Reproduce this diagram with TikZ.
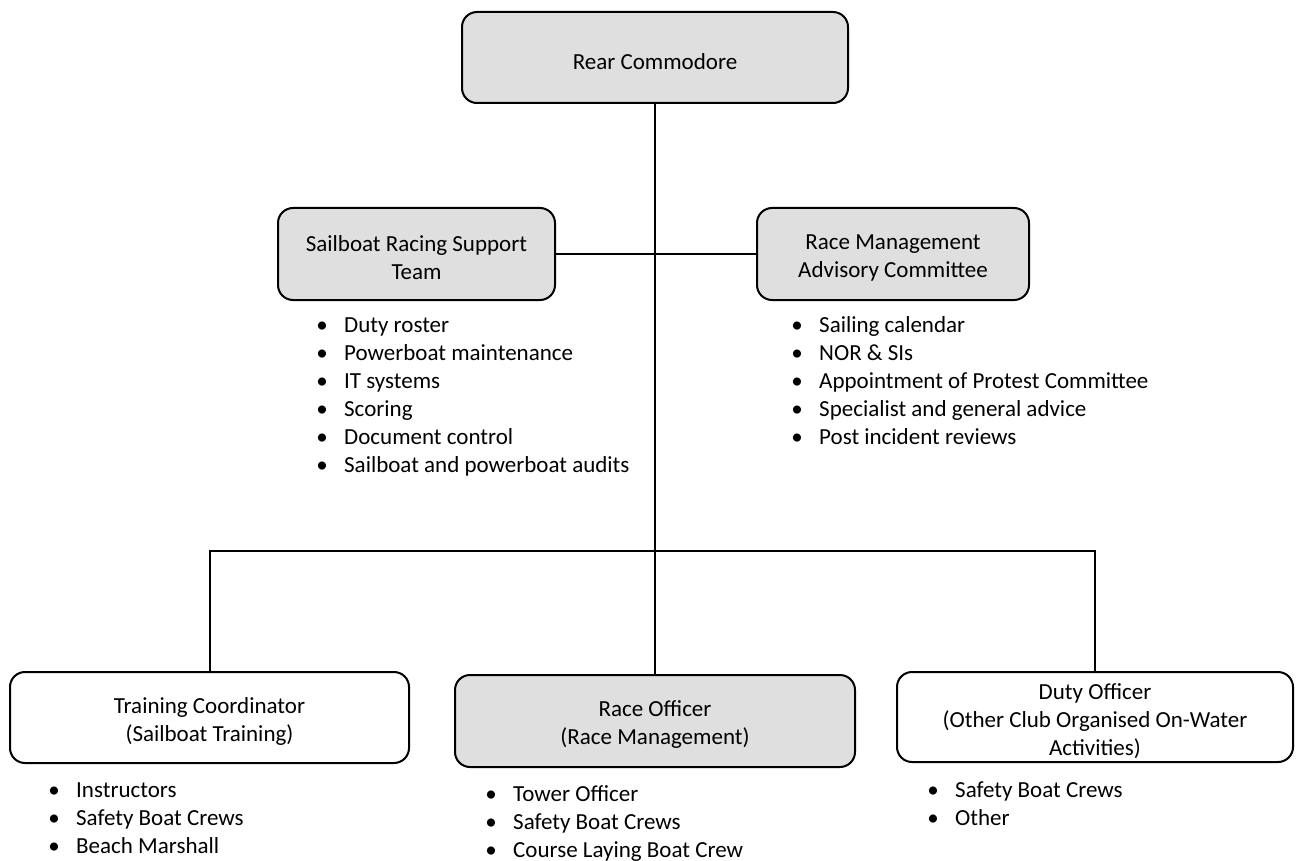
\documentclass[tikz,border=0pt]{standalone}
\usepackage{fontspec}
\setmainfont{Carlito}
\definecolor{boxgray}{RGB}{223,223,223}
\newcommand\itm[1]{\makebox[0pt]{\textbullet}\hspace{22pt}#1}
\begin{document}
\begin{tikzpicture}[x=1pt,y=-1pt,
  every node/.style={font=\fontsize{23}{28}\selectfont},
  box/.style={draw=black,line width=2pt,rounded corners=15pt,inner sep=0pt},
  graybox/.style={box,fill=boxgray},
  whitebox/.style={box,fill=white},
  lbl/.style={align=center,inner sep=0pt,yshift=-4pt},
  bullets/.style={anchor=base west,inner sep=0pt},
  conn/.style={line width=2pt}]
\useasboundingbox (0,0) rectangle (1296,861);
% boxes
\node[graybox,minimum width=386pt,minimum height=91pt,label={[lbl]center:Rear Commodore}] (rear) at (655,57.5) {};
\node[graybox,minimum width=277pt,minimum height=92pt,label={[lbl]center:Sailboat Racing Support\\Team}] (srst) at (416.5,254) {};
\node[graybox,minimum width=272pt,minimum height=92pt,label={[lbl]center:Race Management\\Advisory Committee}] (rmac) at (893,254) {};
\node[whitebox,minimum width=399pt,minimum height=91pt,label={[lbl]center:Training Coordinator\\(Sailboat Training)}] (train) at (209.5,717.5) {};
\node[graybox,minimum width=400pt,minimum height=92pt,label={[lbl]center:Race Officer\\(Race Management)}] (race) at (655,721) {};
\node[whitebox,minimum width=396pt,minimum height=90pt,label={[lbl]center:Duty Officer\\(Other Club Organised On-Water\\Activities)}] (duty) at (1095,717) {};
% connectors
\coordinate (bus) at (655,551);
\draw[conn] (rear.south) -- (race.north);
\draw[conn] (srst.east) -- (rmac.west);
\draw[conn] (train.north) |- (bus) -| (duty.north);
% bullet lists
\node[bullets] (lsrst) at (322,332) {\parbox[t]{400pt}{\itm{Duty roster}\\\itm{Powerboat maintenance}\\\itm{IT systems}\\\itm{Scoring}\\\itm{Document control}\\\itm{Sailboat and powerboat audits}}};
\node[bullets] (lrmac) at (797,332) {\parbox[t]{460pt}{\itm{Sailing calendar}\\\itm{NOR \& SIs}\\\itm{Appointment of Protest Committee}\\\itm{Specialist and general advice}\\\itm{Post incident reviews}}};
\node[bullets] (ltrain) at (54,797) {\parbox[t]{300pt}{\itm{Instructors}\\\itm{Safety Boat Crews}\\\itm{Beach Marshall}}};
\node[bullets] (lrace) at (491,801) {\parbox[t]{360pt}{\itm{Tower Officer}\\\itm{Safety Boat Crews}\\\itm{Course Laying Boat Crew}}};
\node[bullets] (lduty) at (933,797) {\parbox[t]{300pt}{\itm{Safety Boat Crews}\\\itm{Other}}};
\end{tikzpicture}
\end{document}
